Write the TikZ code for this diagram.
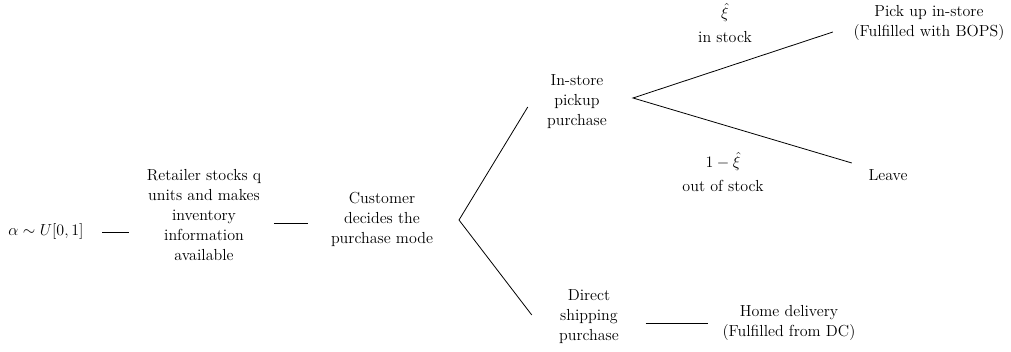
\documentclass[tikz,border=0pt]{standalone}
\usepackage{amssymb}
\usepackage{amsmath}
\usepackage{tikz}
\usetikzlibrary{calc}

\tikzset{
	stage/.style={align=center, font=\fontsize{12}{15}\selectfont},
	link/.style={draw=black, line width=0.6pt}
}

\begin{document}
\begin{tikzpicture}[x=0.75pt, y=-0.75pt]
			\useasboundingbox (0,0) rectangle (1011,352);
			
			\node (alpha) [stage] at (46,232){$\alpha \sim U[0,1]$};
			\node (retailer) [stage] at (204,215){Retailer stocks q\\units and makes\\inventory\\information\\available};
			\node (customer) [stage] at (382,219){Customer\\decides the\\purchase mode};
			\node (instore) [stage] at (577,102){In-store\\pickup\\purchase};
			\node (direct) [stage] at (589,317){Direct\\shipping\\purchase};
			\node (pickup) [stage] at (929,23){Pick up in-store\\(Fulfilled with BOPS)};
			\node (leave) [stage] at (888,175){Leave};
			\node (home) [stage] at (789,323){Home delivery\\(Fulfilled from DC)};
			
			\node (instock) [stage] at (725,23){$\hat{\xi}$\\[3pt]in stock};
			\node (outstock) [stage] at (723,172){$1-\hat{\xi}$\\[3pt]out of stock};
			
			\coordinate (fork) at (459,220);
			\coordinate (pickfork) at (633,98);
			
			\draw[link, shorten <=10.5pt, shorten >=10pt] (alpha.east) -- (alpha.east -| retailer.west);
			\draw[link, shorten <=6pt, shorten >=14pt] ($(retailer.east)+(0,8)$) -- ($(customer.west)+(0,4)$);
			
			\draw[link] ([xshift=-11pt,yshift=-3.75pt]instore.west) -- (fork) -- ([xshift=-17pt,yshift=1.5pt]direct.west);
			\draw[link] ([xshift=-12pt,yshift=-6.75pt]pickup.west) -- (pickfork) -- ([xshift=-9pt,yshift=9pt]leave.west);
			\draw[link, shorten <=16.5pt, shorten >=7.5pt] (home.west -| direct.east) -- (home.west);
		\end{tikzpicture}
\end{document}
